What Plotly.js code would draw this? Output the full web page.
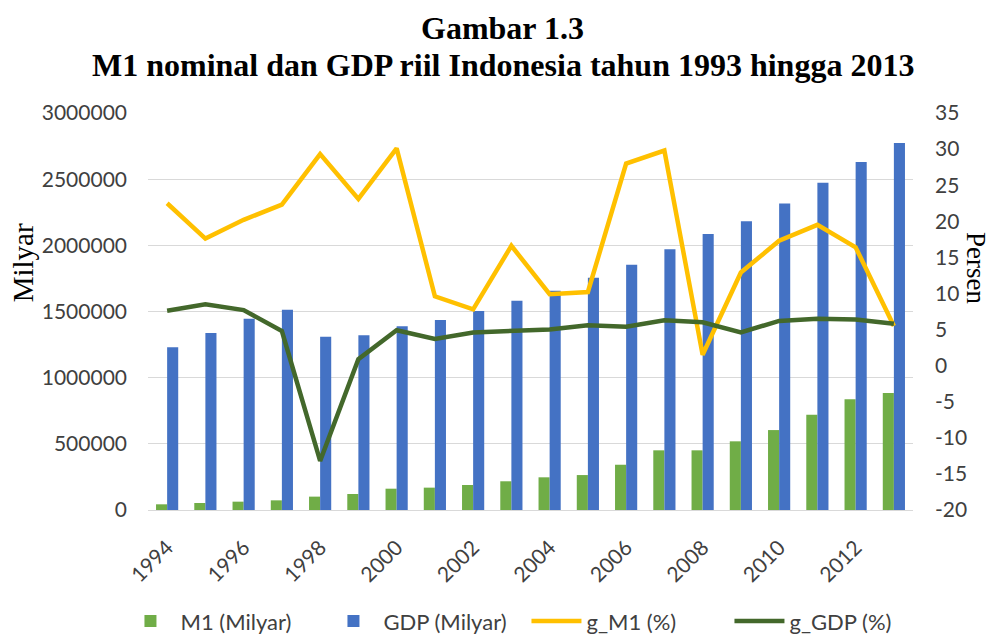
<!DOCTYPE html>
<html>
<head>
<meta charset="utf-8">
<script src="https://cdn.plot.ly/plotly-3.0.1.min.js"></script>
<style>html,body{margin:0;padding:0;background:#fff;}#chart{width:993px;height:634px;}</style>
</head>
<body>
<div id="chart"></div>
<script>
const years = ['1994','1995','1996','1997','1998','1999','2000','2001','2002','2003','2004','2005','2006','2007','2008','2009','2010','2011','2012','2013'];
const tickYears = ['1994','1996','1998','2000','2002','2004','2006','2008','2010','2012'];
const m1 = [43000,53000,63000,73000,101000,121000,161000,169000,189000,217000,247000,264000,342000,451000,451000,519000,604000,720000,836000,884000];
const gdp = [1229000,1337000,1446000,1514000,1310000,1320000,1388000,1436000,1504000,1582000,1657000,1755000,1854000,1970000,2086000,2182000,2317000,2473000,2630000,2773000];
const gM1 = [22.5,17.6,20.2,22.3,29.3,23.1,30.1,9.6,7.8,16.6,9.9,10.2,28.0,29.8,1.5,12.9,17.3,19.5,16.4,5.5];
const gGDP = [7.6,8.5,7.7,4.8,-13.2,0.9,4.9,3.7,4.6,4.8,5.0,5.6,5.4,6.3,6.0,4.6,6.2,6.5,6.4,5.8];
const pctTicks = [-20,-15,-10,-5,0,5,10,15,20,25,30,35];
const pctTickText = ['-20','-15','-10','-5','0','5','10','15','20','25','30','35'];

const sansFont = 'Lato, "Open Sans", sans-serif';
const serifFont = '"Liberation Serif", "Times New Roman", serif';
const tickFont = {family: sansFont, size: 21, color: '#404040'};

const traces = [
  {type: 'bar', name: 'M1 (Milyar)', x: years, y: m1, marker: {color: '#70AD47'}},
  {type: 'bar', name: 'GDP (Milyar)', x: years, y: gdp, marker: {color: '#4472C4'}},
  {type: 'scatter', mode: 'lines', name: 'g_M1 (%)', x: years, y: gM1, yaxis: 'y2', line: {color: '#FFC000', width: 4.5}},
  {type: 'scatter', mode: 'lines', name: 'g_GDP (%)', x: years, y: gGDP, yaxis: 'y2', line: {color: '#43682B', width: 4.5}}
];

const layout = {
  width: 993, height: 634,
  margin: {l: 148, r: 80, t: 113, b: 124, autoexpand: false},
  paper_bgcolor: '#fff', plot_bgcolor: '#fff',
  barmode: 'group', bargap: 0.42, bargroupgap: 0,
  xaxis: {
    type: 'category', tickmode: 'array', tickvals: tickYears, ticktext: tickYears,
    tickangle: -45, tickfont: tickFont, showgrid: false, showline: true,
    linecolor: '#d9d9d9', linewidth: 1, ticks: '', zeroline: false,
    ticklabelstandoff: 16, automargin: false
  },
  yaxis: {
    range: [0, 3000000], dtick: 500000, tick0: 0, tickformat: 'd',
    tickfont: tickFont, gridcolor: '#d9d9d9', gridwidth: 1, zeroline: false,
    showline: false, ticks: '', ticklabelstandoff: 20, automargin: false
  },
  yaxis2: {
    overlaying: 'y', side: 'right', range: [-20, 35],
    tickmode: 'array', tickvals: pctTicks, ticktext: pctTickText,
    tickfont: tickFont, showgrid: false, zeroline: false, showline: false, ticks: '',
    ticklabelstandoff: 21, automargin: false
  },
  showlegend: true,
  legend: {
    orientation: 'h', x: -0.036, xanchor: 'left', y: -0.28, yanchor: 'middle',
    font: {family: sansFont, size: 22, color: '#404040'},
    entrywidth: 138, entrywidthmode: 'pixels', itemwidth: 50, traceorder: 'normal'
  },
  annotations: [
    {text: '<b>Gambar 1.3</b>', xref: 'paper', yref: 'paper', x: 0.464, y: 1.214, xanchor: 'center', yanchor: 'middle',
     showarrow: false, font: {family: serifFont, size: 32, color: '#000'}},
    {text: '<b>M1 nominal dan GDP riil Indonesia tahun 1993 hingga 2013</b>', xref: 'paper', yref: 'paper', x: 0.464, y: 1.121, xanchor: 'center', yanchor: 'middle',
     showarrow: false, font: {family: serifFont, size: 32, color: '#000'}},
    {text: 'Milyar', xref: 'paper', yref: 'paper', x: -0.163, y: 0.622, xanchor: 'center', yanchor: 'middle',
     textangle: -90, showarrow: false, font: {family: serifFont, size: 29, color: '#000'}},
    {text: 'Persen', xref: 'paper', yref: 'paper', x: 1.082, y: 0.61, xanchor: 'center', yanchor: 'middle',
     textangle: 90, showarrow: false, font: {family: serifFont, size: 27, color: '#000'}}
  ]
};

Plotly.newPlot('chart', traces, layout, {displayModeBar: false, staticPlot: true});
</script>
</body>
</html>
